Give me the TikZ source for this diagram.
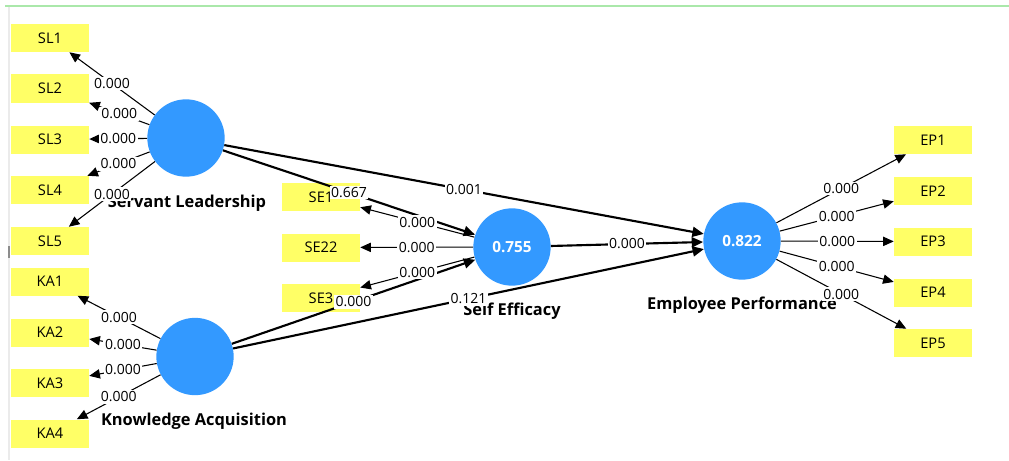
\documentclass[tikz,border=0pt]{standalone}
\usepackage{fontspec}
\setmainfont{Open Sans}
\usetikzlibrary{arrows.meta}
\definecolor{lvblue}{RGB}{51,153,255}
\definecolor{indyellow}{RGB}{255,255,102}
\definecolor{framegreen}{RGB}{170,232,170}
\tikzset{
  ind/.style={rectangle, fill=indyellow, minimum width=58.5pt, minimum height=21pt,
    inner sep=0pt, font=\fontsize{11}{13}\selectfont},
  lv/.style={circle, fill=lvblue, minimum size=58pt, inner sep=0pt, text=white,
    font=\fontsize{11.5}{13}\selectfont\bfseries},
  lvname/.style={inner sep=0pt, font=\fontsize{12.3}{14}\selectfont\bfseries},
  coef/.style={fill=white, inner sep=1.2pt, pos=0.5, font=\fontsize{10.5}{12}\selectfont},
  load/.style={draw, line width=0.8pt, -{Triangle[length=8pt,width=7pt]}},
  path/.style={draw, line width=1.6pt, -{Triangle[length=8.5pt,width=7.5pt]}}
}
\begin{document}
\begin{tikzpicture}[x=0.75pt,y=-0.75pt]
\useasboundingbox (0,0) rectangle (1009,460);
\fill[white] (0,0) rectangle (1009,460);
% window frame
\draw[framegreen, line width=1.2pt] (5,6) -- (1009,6);
\draw[black!8, line width=1.5pt] (9,7) -- (9,460);
\draw[black!45, line width=1.5pt] (9,246) -- (9,258);

% indicators
\node[ind] (sl1) at (50,38) {SL1};
\node[ind] (sl2) at (50,88.5) {SL2};
\node[ind] (sl3) at (50,139.5) {SL3};
\node[ind] (sl4) at (50,190) {SL4};
\node[ind] (sl5) at (50,241) {SL5};
\node[ind] (ka1) at (50,281.5) {KA1};
\node[ind] (ka2) at (50,332.5) {KA2};
\node[ind] (ka3) at (50,383) {KA3};
\node[ind] (ka4) at (50,433.5) {KA4};
\node[ind] (se1) at (321,197) {SE1};
\node[ind] (se22) at (321,247.5) {SE22};
\node[ind] (se3) at (321,298) {SE3};
\node[ind] (ep1) at (933,140) {EP1};
\node[ind] (ep2) at (933,191) {EP2};
\node[ind] (ep3) at (933,241.5) {EP3};
\node[ind] (ep4) at (933,292.5) {EP4};
\node[ind] (ep5) at (933,343) {EP5};

% construct names
\node[lvname] (slname) at (187,203) {Servant Leadership};
\node[lvname] (kaname) at (194,421) {Knowledge Acquisition};
\node[lvname] (sename) at (512,311) {Self Efficacy};
\node[lvname] (epname) at (742,305) {Employee Performance};

% constructs
\node[lv] (sl) at (186,138) {};
\node[lv] (ka) at (195,356.5) {};
\node[lv] (se) at (512,247) {0.755};
\node[lv] (ep) at (742,241) {0.822};

% outer loadings
\foreach \i in {sl1,sl2,sl3,sl4,sl5} \draw[load] (sl) -- (\i);
\foreach \i in {ka1,ka2,ka3,ka4} \draw[load] (ka) -- (\i);
\foreach \i in {se1,se22,se3} \draw[load] (se) -- (\i);
\foreach \i in {ep1,ep2,ep3,ep4,ep5} \draw[load] (ep) -- (\i);

% structural paths
\draw[path] (sl) -- (ep);
\draw[path] (sl) -- (se);
\draw[path] (ka) -- (se);
\draw[path] (ka) -- (ep);
\draw[path] (se) -- (ep);

% coefficient labels
\foreach \i in {sl1,sl2,sl3,sl4,sl5} \path (sl) -- node[coef]{0.000} (\i);
\foreach \i in {ka1,ka2,ka3,ka4} \path (ka) -- node[coef]{0.000} (\i);
\foreach \i in {se1,se22,se3} \path (se) -- node[coef]{0.000} (\i);
\foreach \i in {ep1,ep2,ep3,ep4,ep5} \path (ep) -- node[coef]{0.000} (\i);
\path (sl) -- node[coef]{0.001} (ep);
\path (sl) -- node[coef]{0.667} (se);
\path (ka) -- node[coef]{0.000} (se);
\path (ka) -- node[coef]{0.121} (ep);
\path (se) -- node[coef]{0.000} (ep);
\end{tikzpicture}
\end{document}
